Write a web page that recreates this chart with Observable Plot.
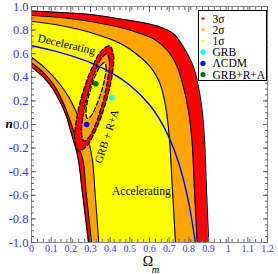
<!DOCTYPE html>
<html><head><meta charset="utf-8">
<script src="https://cdn.jsdelivr.net/npm/d3@7"></script>
<script src="https://cdn.jsdelivr.net/npm/@observablehq/plot@0.6"></script>
<style>
body{margin:0;background:white;}
#wrap{position:relative;width:278px;height:274px;overflow:hidden;}
#legend{position:absolute;left:198px;top:10px;}
</style></head><body><div id="wrap"></div>
<script>
// ---- tick values and labels ----
const omegaTicks = [0,0.1,0.2,0.3,0.4,0.5,0.6,0.7,0.8,0.9,1.0,1.1,1.2];
const omegaTickLabels = ["0","0.1","0.2","0.3","0.4","0.5","0.6","0.7","0.8","0.9","1","1.1","1.2"];
const nTicks = [-1,-0.8,-0.6,-0.4,-0.2,0,0.2,0.4,0.6,0.8,1];
const nTickLabels = ["-1.0","-0.8","-0.6","-0.4","-0.2","0.0","0.2","0.4","0.6","0.8","1.0"];

// ---- GRB confidence band: upper-right boundaries [Omega_m, n] ----
const right3sigma = [[0,0.962],[0.147,0.949],[0.300,0.932],[0.452,0.894],[0.554,0.867],[0.656,0.825],[0.722,0.769],[0.773,0.655],[0.824,0.486],[0.849,0.316],[0.868,0.119],[0.880,-0.136],[0.890,-0.559],[0.901,-1.0]];
const right2sigma = [[0,0.924],[0.147,0.907],[0.300,0.873],[0.452,0.822],[0.554,0.771],[0.620,0.726],[0.691,0.627],[0.742,0.486],[0.773,0.316],[0.798,0.119],[0.816,-0.136],[0.829,-0.559],[0.842,-1.0]];
const right1sigma = [[0,0.875],[0.147,0.839],[0.300,0.780],[0.452,0.686],[0.554,0.570],[0.605,0.486],[0.647,0.373],[0.673,0.231],[0.690,0.062],[0.702,-0.136],[0.717,-0.559],[0.732,-1.0]];
// ---- lower-left boundaries ----
const left1sigma = [[0,0.570],[0.071,0.475],[0.137,0.356],[0.188,0.237],[0.229,0.102],[0.264,-0.025],[0.292,-0.153],[0.310,-0.305],[0.323,-0.576],[0.342,-1.0]];
const left2sigma = [[0,0.523],[0.066,0.432],[0.122,0.314],[0.163,0.178],[0.198,0.025],[0.229,-0.136],[0.262,-0.305],[0.277,-0.559],[0.305,-1.0]];
const left3sigma = [[0,0.486],[0.056,0.407],[0.107,0.305],[0.147,0.186],[0.178,0.068],[0.198,-0.051],[0.221,-0.178],[0.239,-0.305],[0.259,-0.576],[0.290,-1.0]];

// ---- GRB+R+A contours (closed) ----
const combined3sigma = [[0.397,0.666],[0.417,0.591],[0.410,0.417],[0.379,0.191],[0.332,-0.027],[0.282,-0.179],[0.241,-0.224],[0.221,-0.150],[0.227,0.024],[0.257,0.250],[0.304,0.468],[0.354,0.622]];
const combined2sigma = [[0.383,0.598],[0.396,0.540],[0.389,0.398],[0.366,0.211],[0.332,0.029],[0.296,-0.099],[0.268,-0.141],[0.255,-0.082],[0.261,0.059],[0.285,0.247],[0.319,0.429],[0.354,0.557]];
const combined1sigma = [[0.371,0.525],[0.379,0.487],[0.373,0.395],[0.355,0.275],[0.329,0.158],[0.304,0.075],[0.285,0.051],[0.277,0.089],[0.283,0.181],[0.301,0.302],[0.326,0.419],[0.352,0.501]];

// ---- q = 0 (decelerating / accelerating) line ----
const qZeroLine = [[0,0.667],[0.1,0.630],[0.2,0.583],[0.3,0.524],[0.4,0.444],[0.5,0.333],[0.6,0.167],[0.65,0.048],[0.7,-0.111],[0.75,-0.333],[0.8,-0.667],[0.833,-1.0]];

// ---- best-fit points ----
const pointNames = ["GRB","ΛCDM","GRB+R+A"];
const pointOmega = [0.408,0.28,0.327];
const pointN = [0.226,0.0,0.345];
const pointColors = ["#00ffff","#0000ff","#0b6b0b"];

// ---- annotations ----
const annoText = ["Decelerating","Accelerating","GRB + R+A"];
const annoOmega = [0.178,0.559,0.383];
const annoN = [0.678,-0.566,-0.100];
const annoRotate = [13,0,-72];

// ---- legend ----
const legendLabels = ["3σ","2σ","1σ","GRB","ΛCDM","GRB+R+A"];
const legendColors = ["#ff0000","#ffa500","#ffff00","#00ffff","#0000ff","#0b6b0b"];
const legendKinds = ["band","band","band","dot","dot","dot"];

const X = d => d[0], Y = d => d[1];
const bottom = () => -1;
const lbl = (ticks, labels) => d => labels[ticks.findIndex(t => Math.abs(t - d) < 1e-9)];
const tickCol = "#666";
const labelBlue = "#3535ff";

const xMinor = d3.range(0, 1.2001, 0.03);
const yMinor = d3.range(-1, 1.0001, 0.05);

const band = (arr, fill) => Plot.areaY(arr, {x: X, y1: bottom, y2: Y, fill, curve: "catmull-rom"});
const edge = arr => Plot.line(arr, {x: X, y: Y, stroke: "black", strokeWidth: 1.1, curve: "catmull-rom"});
const ellipse = (arr, fill) => Plot.line(arr, {x: X, y: Y, fill, stroke: "black", strokeWidth: 1.25, strokeDasharray: "4.5,2.5", curve: "catmull-rom-closed"});

const annos = annoText.map((t, i) => ({t, x: annoOmega[i], y: annoN[i], r: annoRotate[i]}));
const pts = pointNames.map((name, i) => ({name, x: pointOmega[i], y: pointN[i], c: pointColors[i]}));

const chart = Plot.plot({
  width: 278, height: 274,
  marginLeft: 31, marginRight: 11, marginTop: 6, marginBottom: 32,
  style: {fontFamily: "Liberation Serif", background: "white", overflow: "visible"},
  x: {domain: [0, 1.2]},
  y: {domain: [-1, 1]},
  marks: [
    band(right3sigma, "#ff0000"),
    band(right2sigma, "#ffa500"),
    band(right1sigma, "#ffff00"),
    band(left1sigma, "#ffa500"),
    band(left2sigma, "#ff0000"),
    band(left3sigma, "#ffffff"),
    edge(right3sigma), edge(right2sigma), edge(right1sigma),
    edge(left1sigma), edge(left2sigma), edge(left3sigma),
    ellipse(combined3sigma, "#ff0000"),
    ellipse(combined2sigma, "#ffa500"),
    ellipse(combined1sigma, "#ffff00"),
    Plot.line(qZeroLine, {x: X, y: Y, stroke: "#0000ff", strokeWidth: 1.4, curve: "catmull-rom"}),
    Plot.dot(pts, {x: "x", y: "y", fill: "c", r: 2.8}),
    ...annos.map(a => Plot.text([a], {x: "x", y: "y", text: "t", rotate: a.r, fontSize: a.r === -72 ? 11 : 11.5, fill: "black"})),
    // frame & ticks
    Plot.frame({stroke: "#888"}),
    Plot.axisX({anchor: "bottom", ticks: xMinor, tickSize: -3, fill: "none", stroke: tickCol, label: null}),
    Plot.axisX({anchor: "top", ticks: xMinor, tickSize: -3, fill: "none", stroke: tickCol, label: null}),
    Plot.axisX({anchor: "bottom", ticks: omegaTicks, tickSize: -5, fill: "none", stroke: tickCol, label: null}),
    Plot.axisX({anchor: "top", ticks: omegaTicks, tickSize: -5, fill: "none", stroke: tickCol, label: null}),
    Plot.axisY({anchor: "left", ticks: yMinor, tickSize: -3, fill: "none", stroke: tickCol, label: null}),
    Plot.axisY({anchor: "right", ticks: yMinor, tickSize: -3, fill: "none", stroke: tickCol, label: null}),
    Plot.axisY({anchor: "left", ticks: nTicks, tickSize: -5, fill: "none", stroke: tickCol, label: null}),
    Plot.axisY({anchor: "right", ticks: nTicks, tickSize: -5, fill: "none", stroke: tickCol, label: null}),
    Plot.axisX({anchor: "bottom", ticks: omegaTicks, tickSize: 0, tickPadding: 2, tickFormat: lbl(omegaTicks, omegaTickLabels), fill: labelBlue, fontSize: 10, label: null}),
    Plot.axisY({anchor: "left", ticks: nTicks, tickSize: 0, tickPadding: 3, tickFormat: lbl(nTicks, nTickLabels), fill: labelBlue, fontSize: 12.5, label: null}),
    // axis titles
    Plot.text(["Ω"], {frameAnchor: "bottom", dx: -1.5, dy: 23.5, fontSize: 14, fill: "black"}),
    Plot.text(["m"], {frameAnchor: "bottom", dx: 6, dy: 30, fontSize: 10.5, fontStyle: "italic", fill: "black"}),
    Plot.text(["n"], {frameAnchor: "left", dx: -26, dy: -1, fontSize: 13, fontStyle: "italic", fontWeight: "bold", fill: "black"})
  ]
});

const wrap = document.getElementById("wrap");
wrap.appendChild(chart);

// legend box
const lw = 69, lh = 71;
const leg = d3.select(wrap).append("svg").attr("id", "legend").attr("width", lw).attr("height", lh)
  .style("font-family", "Liberation Serif");
leg.append("rect").attr("x", 0.5).attr("y", 0.5).attr("width", lw - 1).attr("height", lh - 1)
  .attr("fill", "white").attr("stroke", "black");
legendLabels.forEach((label, i) => {
  const cy = 8.5 + i * 11.2;
  if (legendKinds[i] === "band") {
    leg.append("rect").attr("x", 3.5).attr("y", cy - 1).attr("width", 3).attr("height", 2).attr("fill", legendColors[i]);
  } else {
    leg.append("circle").attr("cx", 5).attr("cy", cy).attr("r", 2.6).attr("fill", legendColors[i]);
  }
  leg.append("text").attr("x", 14.5).attr("y", cy).attr("dy", "0.35em").attr("font-size", 11.5).attr("fill", "black").text(label);
});
</script></body></html>
